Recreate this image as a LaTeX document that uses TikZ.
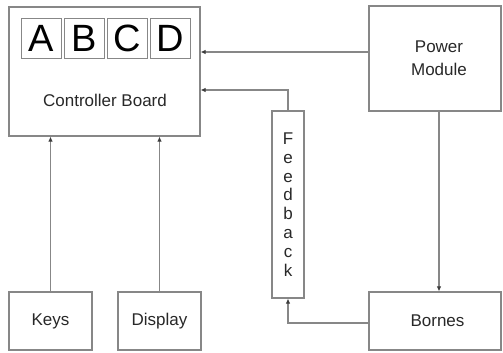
\documentclass[tikz,border=0pt]{standalone}
\usepackage{fontspec}
\setmainfont{Liberation Sans}
\definecolor{linegray}{RGB}{135, 135, 135}
\definecolor{tipgray}{RGB}{60, 60, 60}
\definecolor{textgray}{RGB}{40, 40, 40}
\usepackage{tikz}
\usetikzlibrary{arrows.meta, positioning, calc}

\begin{document}
\begin{tikzpicture}[x=1pt, y=-1pt,
		blockbox/.style={draw=linegray, line width=1.1pt, fill=white, inner sep=0pt, text=textgray, font=\fontsize{17}{23}\selectfont, align=center},
		letterbox/.style={draw=linegray, line width=0.9pt, inner sep=0pt, minimum width=40pt, minimum height=40pt, font=\fontsize{38}{40}\selectfont},
		conn/.style={draw=linegray, line width=1.1pt},
		arr/.style={conn, -{Latex[length=5pt, width=4.5pt, color=tipgray]}}]
	\useasboundingbox (0,0) rectangle (503,353);
	% blocks
	\node[blockbox, minimum width=191pt, minimum height=129pt] (board) at (104.5,71.5) {};
	\node[text=textgray, font=\fontsize{17}{23}\selectfont] (boardlab) at (105,100) {Controller Board};
	\foreach \i/\ch in {0/A, 1/B, 2/C, 3/D}{
		\pgfmathsetmacro\cx{41+43*\i}
		\node[letterbox] (seg\ch) at (\cx,38) {\ch};
	}
	\node[blockbox, minimum width=132pt, minimum height=105pt] (power) at (435,58.5) {\hspace*{8pt}Power\\\hspace*{8pt}Module};
	\node[blockbox, minimum width=132pt, minimum height=58pt] (bornes) at (435,321) {\hspace*{5pt}Bornes};
	\node[blockbox, minimum width=83pt, minimum height=58pt] (keys) at (50.5,321) {Keys};
	\node[blockbox, minimum width=83pt, minimum height=58pt] (display) at (159.5,321) {Display};
	\node[blockbox, minimum width=32pt, minimum height=187pt, font=\fontsize{17}{18.8}\selectfont] (feedback) at (288,204.5) {F\\e\\e\\d\\b\\a\\c\\k};
	% connectors
	\draw[arr] ([yshift=6.5pt]power.west) -- ([yshift=6.5pt]power.west -| board.east);
	\draw[arr] (feedback.north) |- ([yshift=-18.5pt]board.east);
	\draw[arr] (keys.north) -- (keys.north |- board.south);
	\draw[arr] (display.north) -- (display.north |- board.south);
	\draw[arr] ([xshift=4pt]power.south) -- ([xshift=4pt]bornes.north);
	\draw[arr] ([yshift=-2pt]bornes.west) -| (feedback.south);
\end{tikzpicture}
\end{document}
